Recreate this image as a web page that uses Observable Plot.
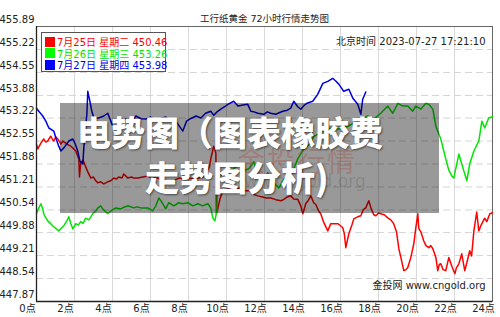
<!DOCTYPE html>
<html><head><meta charset="utf-8">
<script src="https://cdn.jsdelivr.net/npm/d3@7"></script>
<script src="https://cdn.jsdelivr.net/npm/@observablehq/plot@0.6"></script>
<style>
body{margin:0;background:#fff;}
#wrap{position:relative;width:500px;height:317px;overflow:hidden;font-family:'DejaVu Sans','Noto Sans CJK SC',sans-serif;}
#legend{position:absolute;left:41px;top:32px;width:123px;height:38px;border:1px solid #555;background:#fff;}
.row{position:absolute;left:3px;height:11px;display:flex;align-items:center;font-size:10px;white-space:nowrap;}
.sq{width:10px;height:10px;margin-right:2px;}
#overlay{position:absolute;left:60px;top:103px;width:379px;height:110px;background:rgba(0,0,0,0.4);overflow:visible;}
.big{position:absolute;font-family:'Noto Sans CJK SC',sans-serif;font-weight:900;font-size:34px;line-height:34px;color:#fff;white-space:nowrap;text-shadow:1px 1px 2px rgba(0,0,0,0.55);}
.wm{position:absolute;white-space:nowrap;}
</style>
</head><body>
<div id="wrap"></div>
<script>
// ---- data ----
const seriesDates = ["7月25日", "7月26日", "7月27日"];
const seriesWeekdays = ["星期二", "星期三", "星期四"];
const lastValues = [450.46, 453.26, 453.98];
const seriesColors = ["#ff0000", "#00e600", "#0000e6"];

const xTicks = [0, 2, 4, 6, 8, 10, 12, 14, 16, 18, 20, 22, 24];
const yTicks = [447.87, 448.54, 449.21, 449.88, 450.54, 451.21, 451.88, 452.55, 453.22, 453.88, 454.55, 455.22, 455.89];

const titleText = "工行纸黄金 72小时行情走势图";
const timeText = "北京时间 2023-07-27 17:21:10";
const sourceText = "金投网 www.cngold.org";
const overlayLine1 = "电势图（图表橡胶费";
const overlayLine2 = "走势图分析)";
const watermark1 = "金投行情";
const watermark2 = "www.cngold.org";

// [hour, price]
const series0725 = [[0,452.46],[0.07,452.32],[0.23,452.49],[0.38,452.61],[0.49,452.52],[0.59,452.55],[0.75,452.69],[0.86,452.58],[0.91,452.55],[1.02,452.67],[1.12,452.61],[1.28,452.46],[1.38,452.55],[1.54,452.49],[1.7,452.43],[1.81,452.40],[1.96,452.32],[2.07,452.26],[2.17,452.11],[2.23,452.03],[2.26,451.50],[2.33,451.91],[2.45,452.00],[2.55,451.85],[2.7,451.65],[2.86,451.47],[3.0,451.50],[3.12,451.39],[3.23,451.33],[3.38,451.36],[3.54,451.30],[3.75,451.36],[3.91,451.39],[4.07,451.47],[4.2,451.44],[4.33,451.50],[4.5,451.47],[4.59,451.59],[4.7,451.53],[4.8,451.47],[5.0,451.50],[5.12,451.47],[5.33,451.47],[5.6,451.50],[5.86,451.53],[6.0,451.50],[6.3,451.47],[6.6,451.44],[6.8,451.33],[7.0,451.36],[7.2,451.39],[7.5,451.47],[7.8,451.44],[8.0,451.47],[8.3,451.44],[8.5,451.47],[8.75,451.50],[8.9,451.59],[9.1,451.80],[9.2,452.10],[9.33,452.40],[9.44,452.20],[9.47,450.43],[9.55,450.60],[9.65,450.85],[9.75,451.01],[9.9,451.10],[10.1,451.15],[10.4,451.12],[10.7,451.18],[11.0,451.10],[11.28,451.10],[11.5,450.98],[11.65,450.95],[11.9,450.92],[12.1,450.89],[12.33,450.89],[12.6,450.84],[12.86,450.81],[13.0,450.84],[13.2,450.92],[13.38,450.95],[13.54,450.86],[13.75,450.85],[13.91,450.66],[14.02,450.43],[14.17,450.72],[14.28,450.80],[14.44,450.95],[14.59,450.75],[14.7,450.70],[14.86,450.50],[14.96,450.43],[15.1,450.20],[15.33,449.93],[15.49,450.14],[15.7,450.14],[15.86,450.14],[16.0,450.08],[16.12,450.02],[16.2,449.85],[16.28,449.44],[16.38,449.70],[16.44,449.85],[16.6,450.10],[16.7,450.28],[16.9,450.34],[17.07,450.37],[17.2,450.55],[17.33,450.60],[17.49,450.81],[17.6,450.60],[17.75,450.40],[17.86,450.37],[18.0,450.45],[18.12,450.43],[18.3,450.40],[18.49,450.31],[18.65,450.25],[18.8,450.14],[18.95,449.90],[19.07,449.41],[19.2,449.10],[19.33,448.77],[19.45,448.80],[19.54,448.86],[19.7,449.15],[19.86,449.56],[19.96,450.00],[20.07,450.43],[20.12,450.00],[20.23,449.90],[20.38,449.64],[20.5,449.50],[20.65,449.44],[20.75,449.50],[20.86,449.41],[21.02,449.15],[21.12,448.77],[21.2,448.95],[21.28,448.97],[21.4,448.80],[21.54,448.77],[21.7,449.15],[21.86,448.90],[22.02,448.68],[22.1,448.85],[22.23,448.97],[22.38,449.26],[22.54,448.77],[22.65,449.00],[22.8,449.35],[22.9,449.20],[23.02,449.93],[23.17,450.48],[23.28,449.93],[23.4,450.10],[23.59,450.30],[23.7,450.20],[23.86,450.43],[24,450.46]];

const series0726 = [[0,450.43],[0.12,450.60],[0.23,450.72],[0.33,450.57],[0.38,450.43],[0.5,450.30],[0.59,450.22],[0.75,450.14],[0.9,450.05],[1.02,450.00],[1.17,449.93],[1.28,449.99],[1.44,450.08],[1.6,450.22],[1.7,450.34],[1.81,450.14],[1.91,449.99],[2.07,450.14],[2.2,450.10],[2.33,450.20],[2.45,450.15],[2.59,450.30],[2.75,450.25],[2.86,450.34],[2.96,450.43],[3.12,450.51],[3.23,450.60],[3.38,450.66],[3.49,450.57],[3.75,450.43],[3.91,450.51],[4.17,450.60],[4.44,450.57],[4.6,450.62],[4.8,450.66],[5.12,450.60],[5.3,450.63],[5.49,450.60],[5.7,450.60],[5.86,450.60],[6.12,450.51],[6.28,450.66],[6.44,450.89],[6.65,450.72],[6.8,450.57],[6.96,450.75],[7.23,450.66],[7.49,450.75],[7.7,450.72],[7.96,450.75],[8.23,450.66],[8.49,450.72],[8.75,450.66],[9.02,450.72],[9.17,450.60],[9.28,450.31],[9.39,450.22],[9.49,450.51],[9.54,451.68],[9.7,451.53],[9.9,451.70],[10.1,451.62],[10.4,451.75],[10.7,451.88],[11.0,451.70],[11.17,451.74],[11.44,451.95],[11.7,451.44],[11.8,451.33],[12.17,451.62],[12.49,451.33],[12.75,451.18],[13.02,451.44],[13.38,451.53],[13.54,451.74],[13.75,452.03],[14.07,452.32],[14.44,452.49],[14.59,452.69],[14.96,452.78],[15.33,452.90],[15.59,452.93],[15.91,452.90],[16.38,452.98],[16.7,453.07],[17.07,453.19],[17.44,453.28],[17.75,453.19],[18.12,453.36],[18.49,453.57],[18.75,453.36],[19.02,453.65],[19.28,453.57],[19.54,453.57],[19.8,453.42],[19.96,453.57],[20.23,453.48],[20.49,453.65],[20.65,453.62],[20.86,453.48],[21.02,452.98],[21.28,452.61],[21.54,452.03],[21.7,451.70],[21.86,451.53],[21.96,451.47],[22.23,452.17],[22.49,451.68],[22.65,451.39],[22.8,451.88],[23.02,452.26],[23.28,452.55],[23.44,453.13],[23.59,452.93],[23.8,453.22],[24,453.26]];

const series0727 = [[0,453.51],[0.12,453.42],[0.33,453.28],[0.49,453.13],[0.65,452.93],[0.91,452.84],[1.02,452.64],[1.17,452.40],[1.28,452.26],[1.44,452.35],[1.7,452.55],[1.91,452.61],[2.02,452.49],[2.17,452.26],[2.28,451.97],[2.44,451.88],[2.49,452.35],[2.65,453.33],[2.7,454.00],[2.81,453.71],[2.91,453.42],[3.02,453.22],[3.28,453.22],[3.54,453.28],[3.75,453.36],[3.91,453.13],[4.07,452.90],[4.33,453.07],[4.7,453.19],[5.0,453.10],[5.23,453.28],[5.5,453.20],[5.75,453.19],[6.0,453.25],[6.28,453.13],[6.5,453.20],[6.8,453.25],[7.05,453.15],[7.33,453.13],[7.5,453.00],[7.7,452.84],[7.9,453.13],[8.1,453.20],[8.4,453.28],[8.65,453.22],[8.9,453.36],[9.17,453.42],[9.33,453.30],[9.5,453.40],[9.7,453.48],[9.9,453.55],[10.07,453.62],[10.38,453.71],[10.6,453.57],[10.86,453.60],[11.12,453.62],[11.28,453.42],[11.45,453.40],[11.65,453.36],[11.96,453.33],[12.15,453.40],[12.33,453.36],[12.59,453.33],[12.96,453.42],[13.2,453.45],[13.38,453.51],[13.54,453.71],[13.75,453.55],[13.91,453.48],[14.1,453.60],[14.23,453.65],[14.54,453.71],[14.8,453.91],[15.07,454.23],[15.33,454.29],[15.59,454.38],[15.75,454.30],[15.91,454.21],[16.17,454.00],[16.44,454.06],[16.65,453.80],[16.91,453.62],[17.07,453.33],[17.17,453.77],[17.33,453.98]];

// ---- build ----
const allSeries = [series0725, series0726, series0727];
const rows = allSeries.flatMap((s, i) => s.map(([h, v]) => ({h, v, k: seriesDates[i]})));

const chart = Plot.plot({
  width: 500, height: 317,
  marginLeft: 36, marginRight: 8, marginTop: 26, marginBottom: 16,
  style: {fontFamily: "'DejaVu Sans','Noto Sans CJK SC',sans-serif", fontSize: "10px", background: "#fff", color: "#222"},
  x: {domain: [0, 24], label: null},
  y: {domain: [447.87, 455.89], label: null},
  color: {domain: seriesDates, range: seriesColors},
  marks: [
    Plot.gridX(xTicks, {stroke: "#d9d9d9", strokeOpacity: 1}),
    Plot.gridY(yTicks, {stroke: "#d4d4d4", strokeOpacity: 1, strokeDasharray: "7,4"}),
    Plot.frame({stroke: "#666"}),
    Plot.line(rows, {x: "h", y: "v", z: "k", stroke: "k", strokeWidth: 1.5}),
    Plot.ruleX([0], {stroke: "#222", strokeWidth: 1.3}),
    Plot.ruleY([447.87], {stroke: "#222", strokeWidth: 1.3}),
    Plot.axisY(yTicks, {tickSize: 0, tickPadding: 2, dy: -7, tickFormat: d => d.toFixed(2), label: null, fill: "#222"}),
    Plot.axisX(xTicks, {tickSize: 0, tickPadding: 3, dx: -9, tickFormat: d => d + "点", label: null, fill: "#222"}),
    Plot.text([titleText], {text: d => d, frameAnchor: "top", dy: -11, fontSize: 9.5, fill: "#222"}),
    Plot.text([timeText], {text: d => d, frameAnchor: "top-right", textAnchor: "end", dx: -7, dy: 11, fill: "#222"}),
    Plot.text([sourceText], {text: d => d, frameAnchor: "bottom-right", textAnchor: "end", dx: -7, dy: -13, fill: "#222"})
  ]
});

const wrap = document.getElementById("wrap");
wrap.appendChild(chart);

// legend
const legend = document.createElement("div");
legend.id = "legend";
seriesDates.forEach((d, i) => {
  const r = document.createElement("div");
  r.className = "row";
  r.style.top = (3.3 + i * 11.5) + "px";
  r.style.color = seriesColors[i];
  const sq = document.createElement("span");
  sq.className = "sq";
  sq.style.background = i === 0 ? "#ff0000" : i === 1 ? "#00ff00" : "#0000ff";
  r.appendChild(sq);
  const t = document.createElement("span");
  t.textContent = d + " " + seriesWeekdays[i] + " " + lastValues[i].toFixed(2);
  r.appendChild(t);
  legend.appendChild(r);
});
wrap.appendChild(legend);

// overlay (image caption box)
const ov = document.createElement("div");
ov.id = "overlay";
const w1 = document.createElement("div");
w1.className = "wm";
w1.style.cssText = "left:177px;top:37px;font-size:28px;color:rgba(170,60,40,0.28);letter-spacing:2px;";
w1.textContent = watermark1;
const w2 = document.createElement("div");
w2.className = "wm";
w2.style.cssText = "left:170px;top:68px;font-size:17px;color:rgba(0,0,0,0.13);";
w2.textContent = watermark2;
const b1 = document.createElement("div");
b1.className = "big";
b1.style.left = "17px"; b1.style.top = "12px";
b1.textContent = overlayLine1;
const b2 = document.createElement("div");
b2.className = "big";
b2.style.left = "85px"; b2.style.top = "57px";
b2.textContent = overlayLine2;
ov.append(w1, w2, b1, b2);
wrap.appendChild(ov);
</script>
</body></html>
